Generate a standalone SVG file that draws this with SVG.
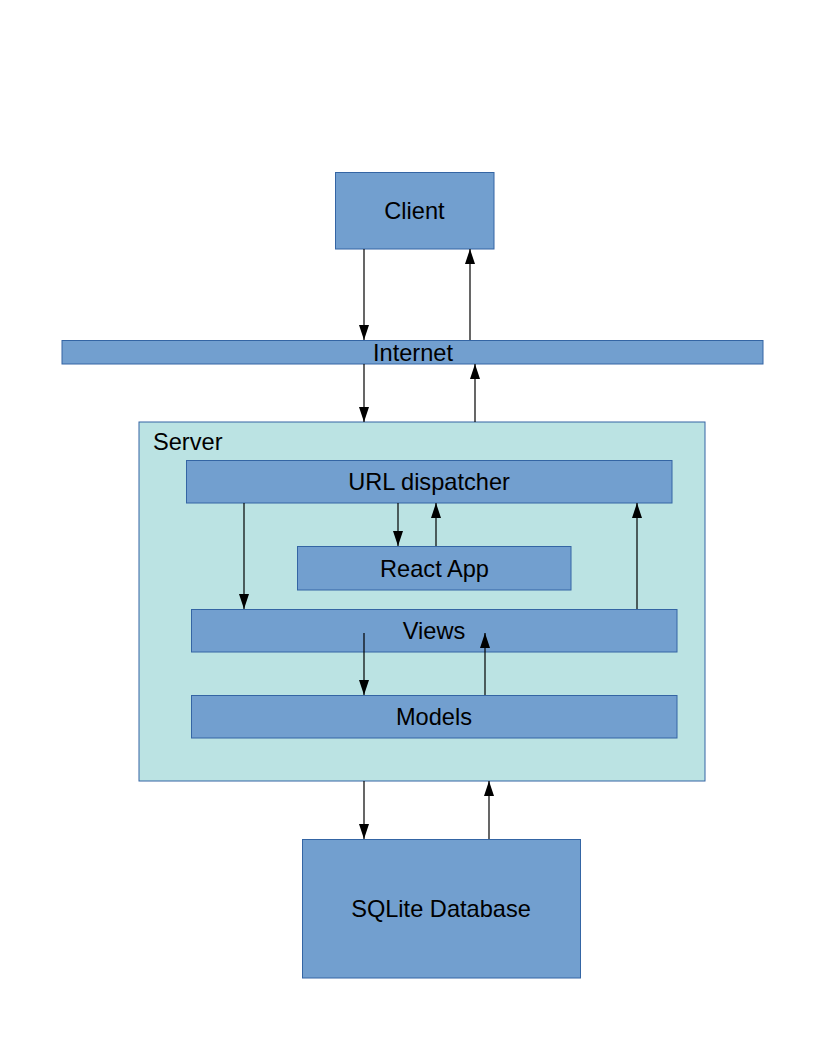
<svg xmlns="http://www.w3.org/2000/svg" width="816" height="1056" viewBox="0 0 816 1056">
<style>
.box{fill:#729fcf;stroke:#3465a4;stroke-width:1}
.server{fill:#bbe3e3;stroke:#3465a4;stroke-width:1}
.lbl{font-family:"Liberation Sans",Arial,sans-serif;font-size:23.6px;fill:#000;text-anchor:middle}
.lbl-l{font-family:"Liberation Sans",Arial,sans-serif;font-size:23.6px;fill:#000}
.conn{stroke:#000;stroke-width:1.2;fill:none;marker-end:url(#ah)}
</style>
<defs>
<marker id="ah" markerWidth="15" markerHeight="10" refX="15" refY="5" orient="auto" markerUnits="userSpaceOnUse" viewBox="0 0 15 10">
<path d="M0,0 L15,5 L0,10 Z" fill="#000"/>
</marker>
</defs>
<rect width="816" height="1056" fill="#fff"/>
<g id="server">
<rect class="server" x="139" y="422" width="566" height="359"/>
<text class="lbl-l" x="153" y="450">Server</text>
</g>
<g id="client">
<rect class="box" x="335.5" y="172.5" width="158.5" height="76.5"/>
<text class="lbl" x="414.5" y="219">Client</text>
</g>
<g id="internet">
<rect class="box" x="62" y="340.5" width="701" height="23.5"/>
<text class="lbl" x="413" y="360.5">Internet</text>
</g>
<g id="url-dispatcher">
<rect class="box" x="186.5" y="460.5" width="485.5" height="42.5"/>
<text class="lbl" x="429" y="490">URL dispatcher</text>
</g>
<g id="react-app">
<rect class="box" x="297.5" y="546.5" width="273.5" height="43.5"/>
<text class="lbl" x="434.5" y="576.5">React App</text>
</g>
<g id="views">
<rect class="box" x="191.5" y="609.5" width="485.5" height="42.5"/>
<text class="lbl" x="434" y="639">Views</text>
</g>
<g id="models">
<rect class="box" x="191.5" y="695.5" width="485.5" height="42.5"/>
<text class="lbl" x="434" y="725">Models</text>
</g>
<g id="sqlite">
<rect class="box" x="302.5" y="839.5" width="278" height="138.5"/>
<text class="lbl" x="441" y="917">SQLite Database</text>
</g>
<g id="connectors">
<line class="conn" x1="364" y1="249" x2="364" y2="340"/>
<line class="conn" x1="470" y1="340" x2="470" y2="249"/>
<line class="conn" x1="364" y1="364" x2="364" y2="422"/>
<line class="conn" x1="475" y1="422" x2="475" y2="364"/>
<line class="conn" x1="244" y1="503" x2="244" y2="609"/>
<line class="conn" x1="398" y1="503" x2="398" y2="546"/>
<line class="conn" x1="436" y1="546" x2="436" y2="503"/>
<line class="conn" x1="637" y1="609" x2="637" y2="503"/>
<line class="conn" x1="364" y1="633" x2="364" y2="695"/>
<line class="conn" x1="485" y1="695" x2="485" y2="633"/>
<line class="conn" x1="364" y1="781" x2="364" y2="839"/>
<line class="conn" x1="489" y1="839" x2="489" y2="781"/>
</g>
</svg>
